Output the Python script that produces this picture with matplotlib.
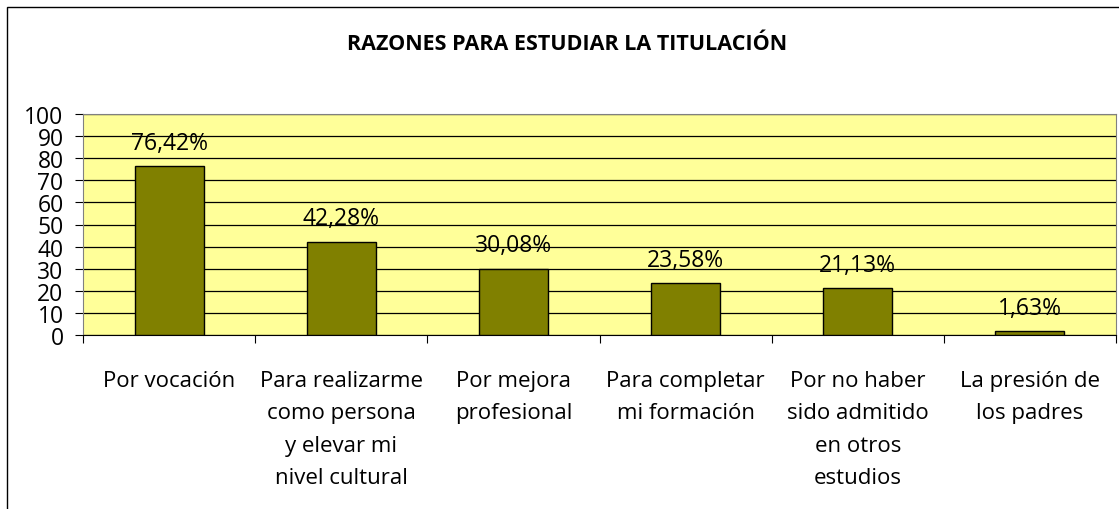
import matplotlib
matplotlib.use("Agg")
import matplotlib.pyplot as plt
from matplotlib.patches import Rectangle

categories = [
    "Por vocación",
    "Para realizarme\ncomo persona\ny elevar mi\nnivel cultural",
    "Por mejora\nprofesional",
    "Para completar\nmi formación",
    "Por no haber\nsido admitido\nen otros\nestudios",
    "La presión de\nlos padres",
]
values = [76.42, 42.28, 30.08, 23.58, 21.13, 1.63]
value_labels = ["76,42%", "42,28%", "30,08%", "23,58%", "21,13%", "1,63%"]
yticks = list(range(0, 101, 10))

plt.rcParams['font.family'] = ['Open Sans', 'DejaVu Sans']

W, H = 1119, 510
fig = plt.figure(figsize=(W / 100, H / 100), dpi=100)
ax = fig.add_axes([83 / W, 1 - 336 / H, (1116 - 83) / W, (336 - 115) / H])

ax.set_facecolor('#FFFF99')
x = list(range(len(categories)))
ax.bar(x, values, width=0.4, color='#808000', edgecolor='black', linewidth=1, zorder=3)

for xi, v, lab in zip(x, values, value_labels):
    ax.annotate(lab, (xi, v), xytext=(0, 8), textcoords='offset points',
                ha='center', va='bottom', fontsize=16.5, color='black', zorder=4)

ax.set_xlim(-0.5, len(categories) - 0.5)
ax.set_ylim(0, 100)
ax.set_yticks(yticks)
ax.tick_params(axis='y', labelsize=16.5, length=6, width=0.8, pad=8, direction='out')
ax.set_xticks(x)
ax.set_xticklabels(categories, fontsize=16, linespacing=1.72, va='top')
ax.tick_params(axis='x', length=0, pad=25)
# category separators
ax.set_xticks([i + 0.5 for i in range(-1, len(categories))], minor=True)
ax.tick_params(axis='x', which='minor', length=6, width=0.8, direction='out')

ax.yaxis.grid(True, color='black', linewidth=0.9, zorder=1)
ax.set_axisbelow(True)
for side in ['top', 'right', 'left']:
    ax.spines[side].set_color('#808080')
ax.spines['bottom'].set_color('black')

fig.text(567 / W, 1 - 45 / H, "RAZONES PARA ESTUDIAR LA TITULACIÓN",
         ha='center', va='center', fontsize=15.5, fontweight='bold')

fig.patches.append(Rectangle((7 / W, -0.1), 1.2, 1 - 8 / H + 0.1,
                             transform=fig.transFigure, fill=False,
                             edgecolor='black', linewidth=1))

fig.savefig("out.png", dpi=100, facecolor='white')
